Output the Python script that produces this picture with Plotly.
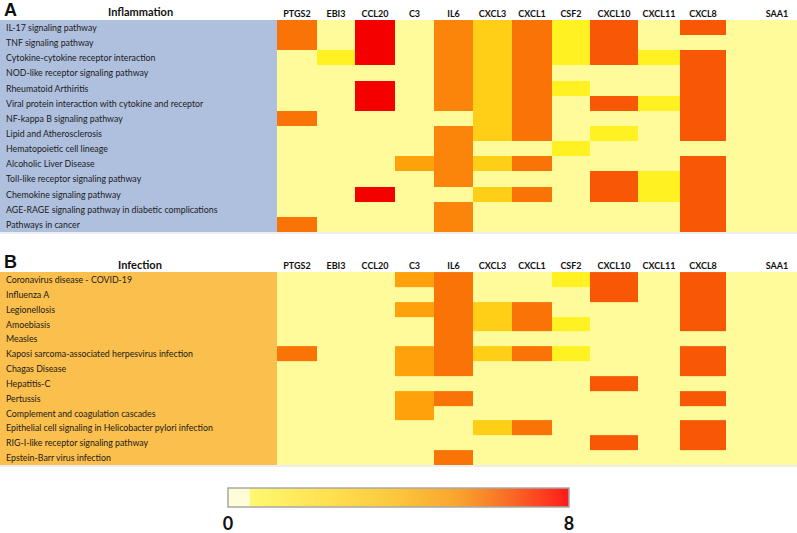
import plotly.graph_objects as go

GENES = ["PTGS2", "EBI3", "CCL20", "C3", "IL6", "CXCL3", "CXCL1", "CSF2",
         "CXCL10", "CXCL11", "CXCL8", "SAA1"]

INFL_PATHWAYS = [
    "IL-17 signaling pathway",
    "TNF signaling pathway",
    "Cytokine-cytokine receptor interaction",
    "NOD-like receptor signaling pathway",
    "Rheumatoid Arthiritis",
    "Viral protein interaction with cytokine and receptor",
    "NF-kappa B signaling pathway",
    "Lipid and Atherosclerosis",
    "Hematopoietic cell lineage",
    "Alcoholic Liver Disease",
    "Toll-like receptor signaling pathway",
    "Chemokine signaling pathway",
    "AGE-RAGE signaling pathway in diabetic complications",
    "Pathways in cancer",
]
# PTGS2 EBI3 CCL20 C3 IL6 CXCL3 CXCL1 CSF2 CXCL10 CXCL11 CXCL8 SAA1
INFL_VALUES = [
    [5.5, 0, 8, 0, 5, 3, 5.5, 2, 6.5, 0, 6.5, 0],
    [5.5, 0, 8, 0, 5, 3, 5.5, 2, 6.5, 0, 0, 0],
    [0, 2, 8, 0, 5, 3, 5.5, 2, 6.5, 2, 6.5, 0],
    [0, 0, 0, 0, 5, 3, 5.5, 0, 0, 0, 6.5, 0],
    [0, 0, 8, 0, 5, 3, 5.5, 2, 0, 0, 6.5, 0],
    [0, 0, 8, 0, 5, 3, 5.5, 0, 6.5, 2, 6.5, 0],
    [5.5, 0, 0, 0, 0, 3, 5.5, 0, 0, 0, 6.5, 0],
    [0, 0, 0, 0, 5, 3, 5.5, 0, 2, 0, 6.5, 0],
    [0, 0, 0, 0, 5, 0, 0, 2, 0, 0, 0, 0],
    [0, 0, 0, 4, 5, 3, 5.5, 0, 0, 0, 6.5, 0],
    [0, 0, 0, 0, 5, 0, 0, 0, 6.5, 2, 6.5, 0],
    [0, 0, 8, 0, 0, 3, 5.5, 0, 6.5, 2, 6.5, 0],
    [0, 0, 0, 0, 5, 0, 0, 0, 0, 0, 6.5, 0],
    [5.5, 0, 0, 0, 5, 0, 0, 0, 0, 0, 6.5, 0],
]

INF_PATHWAYS = [
    "Coronavirus disease - COVID-19",
    "Influenza A",
    "Legionellosis",
    "Amoebiasis",
    "Measles",
    "Kaposi sarcoma-associated herpesvirus infection",
    "Chagas Disease",
    "Hepatitis-C",
    "Pertussis",
    "Complement and coagulation cascades",
    "Epithelial cell signaling in Helicobacter pylori infection",
    "RIG-I-like receptor signaling pathway",
    "Epstein-Barr virus infection",
]
INF_VALUES = [
    [0, 0, 0, 4, 5.5, 0, 0, 2, 6.5, 0, 6.5, 0],
    [0, 0, 0, 0, 5.5, 0, 0, 0, 6.5, 0, 6.5, 0],
    [0, 0, 0, 4, 5.5, 3, 5.5, 0, 0, 0, 6.5, 0],
    [0, 0, 0, 0, 5.5, 3, 5.5, 2, 0, 0, 6.5, 0],
    [0, 0, 0, 0, 5.5, 0, 0, 0, 0, 0, 0, 0],
    [5.5, 0, 0, 4, 5.5, 3, 5.5, 2, 0, 0, 6.5, 0],
    [0, 0, 0, 4, 5.5, 0, 0, 0, 0, 0, 6.5, 0],
    [0, 0, 0, 0, 0, 0, 0, 0, 6.5, 0, 0, 0],
    [0, 0, 0, 4, 5.5, 0, 0, 0, 0, 0, 6.5, 0],
    [0, 0, 0, 4, 0, 0, 0, 0, 0, 0, 0, 0],
    [0, 0, 0, 0, 0, 3, 5.5, 0, 0, 0, 6.5, 0],
    [0, 0, 0, 0, 0, 0, 0, 0, 6.5, 0, 6.5, 0],
    [0, 0, 0, 0, 5.5, 0, 0, 0, 0, 0, 0, 0],
]

SCALE_TICKS = [0, 8]

# ---------------- layout / style constants ----------------
W, H = 797, 533
COL_EDGES = [277, 317, 355, 395, 434, 473, 512, 552, 590, 638, 680, 726, 828]
PANEL_A = (20, 232)   # top, bottom in px
PANEL_B = (272, 465)
FONT = "Lato"

CELL_SCALE = [
    [0.0, "#FFFA9A"], [0.24, "#FFFA9A"], [0.25, "#FFF122"],
    [0.375, "#FFCE16"], [0.5, "#FFA10A"], [0.625, "#FB840A"],
    [0.6875, "#F97306"], [0.8125, "#F85805"], [1.0, "#F40000"],
]
LEGEND_SCALE = [
    [0.0, "#FFFCDA"], [0.062, "#FFFCDA"], [0.066, "#FFF870"],
    [0.3, "#FFE050"], [0.5, "#FCC63C"], [0.68, "#F9A22E"],
    [0.82, "#F86E26"], [0.93, "#FC3C1E"], [1.0, "#FF1A1A"],
]


def dom(top, bottom):
    return [(H - bottom) / H, (H - top) / H]


centers = [(COL_EDGES[i] + COL_EDGES[i + 1]) / 2 for i in range(len(GENES))]

fig = go.Figure()

for idx, (rows, vals) in enumerate([(INFL_PATHWAYS, INFL_VALUES), (INF_PATHWAYS, INF_VALUES)]):
    ax = "" if idx == 0 else "2"
    fig.add_trace(go.Heatmap(
        z=vals, x=COL_EDGES, y=rows, zmin=0, zmax=8,
        colorscale=CELL_SCALE, showscale=False, hoverinfo="skip",
        xaxis="x" + ax, yaxis="y" + ax,
    ))

# colour legend
fig.add_trace(go.Scatter(
    x=[None], y=[None], mode="markers", hoverinfo="skip", showlegend=False,
    marker=dict(color=[0], cmin=SCALE_TICKS[0], cmax=SCALE_TICKS[-1],
                colorscale=LEGEND_SCALE, showscale=True,
                colorbar=dict(orientation="h", x=228 / W, xanchor="left",
                              y=(H - 488) / H, yanchor="top",
                              len=341, lenmode="pixels", thickness=19,
                              thicknessmode="pixels", xpad=0, ypad=0,
                              outlinecolor="#a8a8a8", outlinewidth=1.5,
                              tickvals=SCALE_TICKS,
                              ticktext=["<b>%s</b>" % t for t in SCALE_TICKS],
                              ticks="", tickfont=dict(family=FONT, size=18, color="#111"),
                              ticklabelposition="outside bottom")),
))

axis_common = dict(range=[0, W], domain=[0, 1], side="top", showgrid=False,
                   zeroline=False, showline=False, ticks="", automargin=False,
                   tickvals=centers, ticktext=["<b>%s</b>" % g for g in GENES],
                   tickfont=dict(family=FONT, size=9, color="#111"))
fig.update_layout(
    width=W, height=H, margin=dict(l=0, r=0, t=0, b=0, pad=0, autoexpand=False),
    paper_bgcolor="white", plot_bgcolor="white", showlegend=False,
    font=dict(family=FONT),
    xaxis=dict(anchor="y", **axis_common),
    xaxis2=dict(anchor="y2", **axis_common),
    yaxis=dict(domain=dom(*PANEL_A), autorange="reversed", showticklabels=False,
               showgrid=False, zeroline=False, ticks="", automargin=False),
    yaxis2=dict(domain=dom(*PANEL_B), autorange="reversed", showticklabels=False,
                showgrid=False, zeroline=False, ticks="", automargin=False),
)

shapes = []
annotations = []
panels = [("A", "Inflammation", INFL_PATHWAYS, "#AFC0DF", "x", "y", PANEL_A),
          ("B", "Infection", INF_PATHWAYS, "#FBBF4D", "x2", "y2", PANEL_B)]
for letter, title, rows, col, xr, yr, (top, bottom) in panels:
    shapes.append(dict(type="rect", xref=xr, yref=yr + " domain", x0=0, x1=COL_EDGES[0],
                       y0=0, y1=1, fillcolor=col, line=dict(width=0), layer="below"))
    shapes.append(dict(type="line", xref="paper", yref="paper", x0=0, x1=1,
                       y0=(H - bottom - 1) / H, y1=(H - bottom - 1) / H,
                       line=dict(color="#dcdcdc", width=1)))
    for r in rows:
        annotations.append(dict(x=4, y=r, xref=xr, yref=yr, text=r, showarrow=False,
                                xanchor="left", yanchor="middle",
                                font=dict(family=FONT, size=8.8, color="#1a1a1a")))
    annotations.append(dict(x=140, y=(H - top + 8) / H, xref=xr, yref="paper",
                            text="<b>%s</b>" % title, showarrow=False,
                            xanchor="center", yanchor="middle",
                            font=dict(family=FONT, size=11, color="#111")))
    annotations.append(dict(x=2 / W, y=(H - top + 10) / H, xref="paper", yref="paper",
                            text="<b>%s</b>" % letter, showarrow=False,
                            xanchor="left", yanchor="middle",
                            font=dict(family="Liberation Sans", size=18, color="#111")))

fig.update_layout(shapes=shapes, annotations=annotations)
fig.write_html("out.html", config={"displayModeBar": False},
               post_script="document.body.style.margin='0';document.body.style.overflow='hidden';")
